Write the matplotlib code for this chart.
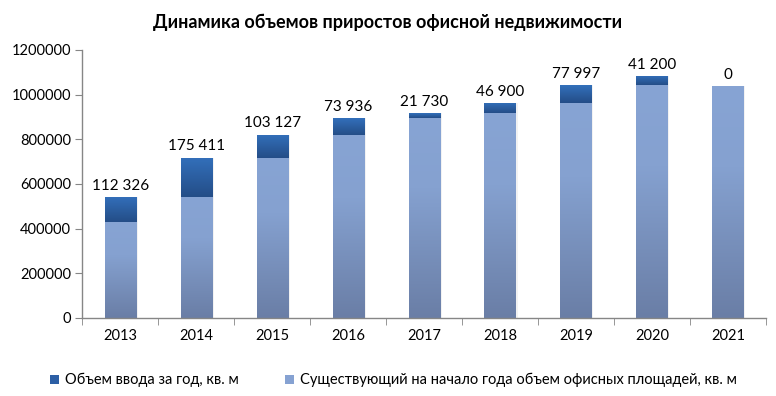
import numpy as np
import matplotlib
matplotlib.use("Agg")
import matplotlib.pyplot as plt
from matplotlib.colors import LinearSegmentedColormap
from matplotlib.patches import Patch

years = ["2013", "2014", "2015", "2016", "2017", "2018", "2019", "2020", "2021"]
existing = [430000, 542326, 717737, 820864, 894800, 916530, 963430, 1041427, 1038000]
added = [112326, 175411, 103127, 73936, 21730, 46900, 77997, 41200, 0]
labels = ["112 326", "175 411", "103 127", "73 936", "21 730", "46 900", "77 997", "41 200", "0"]
yticks = [0, 200000, 400000, 600000, 800000, 1000000, 1200000]

plt.rcParams['font.family'] = ['Lato', 'DejaVu Sans']

fig = plt.figure(figsize=(7.76, 3.96), dpi=100)
ax = fig.add_axes([0.106, 0.197, 0.881, 0.677])

x = np.arange(len(years))
w = 0.41

base_cmap = LinearSegmentedColormap.from_list(
    "base", [(0.0, "#87A4D4"), (0.35, "#85A1D0"), (1.0, "#6A7EA6")])
top_cmap = LinearSegmentedColormap.from_list(
    "top", [(0.0, "#3370BB"), (1.0, "#244D87")])

grad = np.linspace(0, 1, 256).reshape(-1, 1)

b1 = ax.bar(x, existing, w, color="none", edgecolor="none", zorder=2)
b2 = ax.bar(x, added, w, bottom=existing, color="none", edgecolor="none", zorder=2)

def fill(bars, cmap):
    for r in bars:
        x0, y0 = r.get_x(), r.get_y()
        ww, hh = r.get_width(), r.get_height()
        if hh <= 0:
            continue
        sh = plt.Rectangle((x0 + 0.015, y0), ww + 0.01, hh, color="#000000",
                           alpha=0.05, zorder=1, lw=0)
        ax.add_patch(sh)
        im = ax.imshow(grad, cmap=cmap, aspect="auto",
                       extent=(x0, x0 + ww, y0, y0 + hh), origin="upper",
                       zorder=2, interpolation="bilinear")
        im.set_clip_path(r)

fill(b1, base_cmap)
fill(b2, top_cmap)

for xi, e, a, lab in zip(x, existing, added, labels):
    ax.annotate(lab, (xi, e + a), xytext=(0, 3), textcoords="offset points",
                ha="center", va="bottom", fontsize=11, color="#000000")

ax.set_xlim(-0.5, len(years) - 0.5)
ax.set_ylim(0, 1200000)
ax.set_yticks(yticks)
ax.set_yticklabels([str(v) for v in yticks], fontsize=10.5)
ax.set_xticks(x)
ax.set_xticklabels(years, fontsize=10.5)
ax.set_xticks(np.arange(-0.5, len(years)), minor=True)
ax.tick_params(axis="x", which="major", length=0, pad=8)
ax.tick_params(axis="x", which="minor", length=5, color="#868686")
ax.tick_params(axis="y", length=5, color="#868686", pad=3)

for s in ["top", "right"]:
    ax.spines[s].set_visible(False)
for s in ["left", "bottom"]:
    ax.spines[s].set_color("#868686")
    ax.spines[s].set_linewidth(1.0)

fig.suptitle("Динамика объемов приростов офисной недвижимости",
             x=0.5, y=0.965, fontsize=13, fontweight="bold")

handles = [Patch(facecolor="#2C5FA5", edgecolor="none"),
           Patch(facecolor="#86A2D2", edgecolor="none")]
fig.legend(handles, ["Объем ввода за год, кв. м",
                     "Существующий на начало года объем офисных площадей, кв. м"],
           loc="center", bbox_to_anchor=(0.507, 0.04), ncol=2, frameon=False,
           fontsize=10.5, handlelength=0.6, handleheight=0.6, handletextpad=0.4,
           columnspacing=3.2)

fig.savefig("out.png", dpi=100)
